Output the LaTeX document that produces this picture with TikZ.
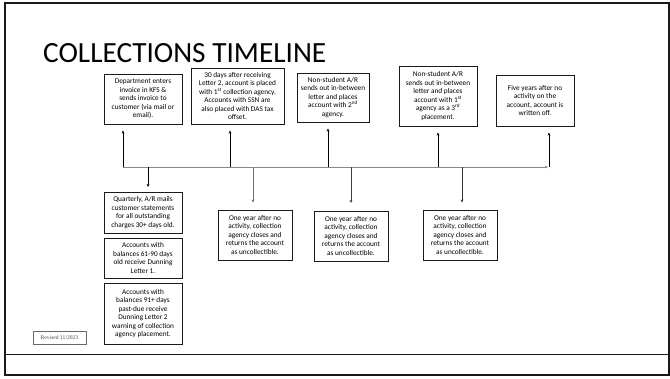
\documentclass[tikz,border=0pt]{standalone}
\usepackage{fontspec}
\setmainfont{Carlito}
\newfontfamily\revfont{Liberation Serif}
\usetikzlibrary{arrows.meta}
\definecolor{tlgray}{HTML}{8A8A8A}
\definecolor{boxline}{HTML}{1A1A1A}
\tikzset{
  x=1pt, y=-1pt,
  evbox/.style={draw=boxline, line width=0.9pt, align=center, inner sep=1pt,
    font=\fontsize{7.3}{8.5}\selectfont, text=black},
  conn/.style={line width=0.8pt, -{Stealth[length=3.2pt,width=2.8pt]}},
  upconn/.style={conn, black, shorten >=6pt},
  dnconn/.style={conn, shorten >=5pt},
  tline/.style={line width=0.8pt, tlgray},
}
\begin{document}
\begin{tikzpicture}
\useasboundingbox (0,0) rectangle (670,378);
% frame
\draw[line width=1.6pt, black!90] (5,3) rectangle (669,375);
\draw[line width=0.8pt, black!90] (5,354) -- (669,354);
% title
\node[anchor=base west, inner sep=0pt, font=\fontsize{29.3}{32}\selectfont] (title) at (43,62) {COLLECTIONS TIMELINE};
% top boxes
\node[evbox, minimum width=78pt, minimum height=50pt] (b1) at (143,99)
  {Department enters\\invoice in KFS \&\\sends invoice to\\customer (via mail or\\email).};
\node[evbox, minimum width=93pt, minimum height=56pt] (b2) at (237.5,96)
  {30 days after receiving\\Letter 2, account is placed\\with 1\textsuperscript{st} collection agency.\\Accounts with SSN are\\also placed with DAS tax\\offset.};
\node[evbox, minimum width=72pt, minimum height=49pt] (b3) at (333,97.5)
  {Non-student A/R\\sends out in-between\\letter and places\\account with 2\textsuperscript{nd}\\agency.};
\node[evbox, minimum width=78pt, minimum height=60pt] (b4) at (438,96)
  {Non-student A/R\\sends out in-between\\letter and places\\account with 1\textsuperscript{st}\\agency as a 3\textsuperscript{rd}\\placement.};
\node[evbox, minimum width=78pt, minimum height=51pt] (b5) at (535,100.5)
  {Five years after no\\activity on the\\account, account is\\written off.};
% bottom boxes
\node[evbox, minimum width=78pt, minimum height=41pt] (q1) at (143,212.5)
  {Quarterly, A/R mails\\customer statements\\for all outstanding\\charges 30+ days old.};
\node[evbox, minimum width=78pt, minimum height=40pt] (q2) at (143,258)
  {Accounts with\\balances 61-90 days\\old receive Dunning\\Letter 1.};
\node[evbox, minimum width=78pt, minimum height=61pt] (q3) at (143,313.5)
  {Accounts with\\balances 91+ days\\past-due receive\\Dunning Letter 2\\warning of collection\\agency placement.};
\node[evbox, minimum width=74pt, minimum height=50pt] (o1) at (255,235)
  {One year after no\\activity, collection\\agency closes and\\returns the account\\as uncollectible.};
\node[evbox, minimum width=74pt, minimum height=50pt] (o2) at (351,236)
  {One year after no\\activity, collection\\agency closes and\\returns the account\\as uncollectible.};
\node[evbox, minimum width=74pt, minimum height=50pt] (o3) at (460,235)
  {One year after no\\activity, collection\\agency closes and\\returns the account\\as uncollectible.};
% revised note
\node[draw=black!60, line width=0.6pt, minimum width=53pt, minimum height=13pt, inner sep=0pt,
  font=\revfont\fontsize{5.6}{6}\selectfont, text=black!70] (rev) at (59.5,337.5) {Revised 11/2023};
% timeline coordinates
\coordinate (t1) at (123,167);
\coordinate (t2) at (230,167);
\coordinate (t3) at (328,167);
\coordinate (t4) at (438,167);
\coordinate (tend) at (549,167);
\coordinate (d1) at (148,167);
\coordinate (d2) at (253,167);
\coordinate (d3) at (351,167);
\coordinate (d4) at (462,167);
% timeline
\draw[tline, -{Stealth[length=3.2pt,width=2.8pt]}, shorten >=1pt] (t1) -- (tend);
% up connectors
\draw[upconn] (t1) -- (t1 |- b1.south);
\draw[upconn] (t2) -- (t2 |- b2.south);
\draw[upconn] (t3) -- (t3 |- b3.south);
\draw[upconn] (t4) -- (t4 |- b4.south);
\draw[upconn] (tend) -- (tend |- b5.south);
% down connectors
\draw[dnconn, black, shorten >=4.5pt] (d1) -- (d1 |- q1.north);
\draw[dnconn, tlgray!80!black, shorten >=7pt] (d2) -- (d2 |- o1.north);
\draw[dnconn, black!75, shorten >=7.5pt] (d3) -- (d3 |- o2.north);
\draw[dnconn, black!80, shorten >=7pt] (d4) -- (d4 |- o3.north);
\end{tikzpicture}
\end{document}
